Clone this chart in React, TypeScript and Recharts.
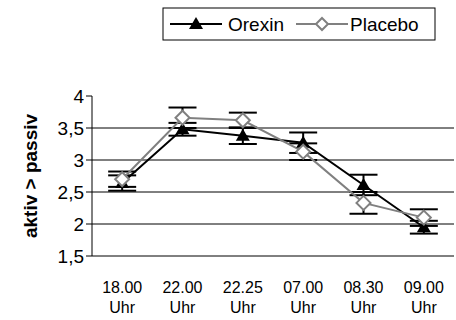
import React from 'react';
import { LineChart, Line, XAxis, YAxis, ErrorBar, ReferenceLine } from 'recharts';

const categories = ['18.00 Uhr', '22.00 Uhr', '22.25 Uhr', '07.00 Uhr', '08.30 Uhr', '09.00 Uhr'];
const orexin = [2.64, 3.48, 3.38, 3.27, 2.61, 1.95];
const orexinErr = [0.12, 0.1, 0.13, 0.16, 0.16, 0.1];
const placebo = [2.7, 3.66, 3.62, 3.13, 2.33, 2.1];
const placeboErr = [0.12, 0.16, 0.12, 0.13, 0.17, 0.13];
const yTicks = [1.5, 2, 2.5, 3, 3.5, 4];
const gridValues = [2, 2.5, 3, 3.5];

const data = categories.map((c, i) => ({
  x: i + 0.5,
  label: c,
  orexin: orexin[i],
  orexinErr: orexinErr[i],
  placebo: placebo[i],
  placeboErr: placeboErr[i],
}));

const font = '"Liberation Sans", Arial, sans-serif';

const Triangle = (props: any) => {
  const { cx, cy } = props;
  if (cx == null || cy == null) return null;
  return <path d={`M${cx},${cy - 7} L${cx + 7},${cy + 5} L${cx - 7},${cy + 5} Z`} fill="#000" />;
};

const Diamond = (props: any) => {
  const { cx, cy } = props;
  if (cx == null || cy == null) return null;
  return (
    <path
      d={`M${cx},${cy - 7} L${cx + 7},${cy} L${cx},${cy + 7} L${cx - 7},${cy} Z`}
      fill="#fff"
      stroke="#808080"
      strokeWidth={2}
    />
  );
};

const CatTick = (props: any) => {
  const { x, y, payload } = props;
  const idx = Math.round(payload.value - 0.5);
  const parts = (categories[idx] || '').split(' ');
  return (
    <text x={x} y={y} textAnchor="middle" fontSize={16} fontFamily={font} fill="#000">
      <tspan x={x} dy={28}>{parts[0]}</tspan>
      <tspan x={x} dy={20}>{parts[1]}</tspan>
    </text>
  );
};

// legend drawn as plain svg on top of the chart
const LegendBox = () => (
  <svg width={274} height={34} style={{ position: 'absolute', left: 162, top: 7 }}>
    <rect x={1} y={1} width={272} height={32} fill="#fff" stroke="#000" strokeWidth={1} />
    <line x1={8} y1={17} x2={60} y2={17} stroke="#000" strokeWidth={2} />
    <path d="M34,10 L41,22 L27,22 Z" fill="#000" />
    <text x={66} y={24} fontSize={19} fontFamily={font}>Orexin</text>
    <line x1={134} y1={17} x2={186} y2={17} stroke="#808080" strokeWidth={2} />
    <path d="M160,11 L166,17 L160,23 L154,17 Z" fill="#fff" stroke="#808080" strokeWidth={2} />
    <text x={188} y={24} fontSize={19} fontFamily={font}>Placebo</text>
  </svg>
);

export default function App() {
  return (
    <div style={{ position: 'absolute', left: 0, top: 0, width: 456, height: 320, background: '#fff' }}>
      <LineChart width={456} height={320} data={data} margin={{ top: 96, right: 2, bottom: 3, left: 0 }}>
        <XAxis
          xAxisId="bounds"
          type="number"
          dataKey="x"
          domain={[0, 6]}
          ticks={[0, 1, 2, 3, 4, 5, 6]}
          tick={false}
          tickSize={5}
          axisLine={{ stroke: '#000', strokeWidth: 1 }}
          tickLine={{ stroke: '#000' }}
          height={1}
        />
        <XAxis
          xAxisId="labels"
          type="number"
          dataKey="x"
          domain={[0, 6]}
          ticks={data.map((d) => d.x)}
          tick={<CatTick />}
          tickLine={false}
          axisLine={false}
          height={60}
        />
        <YAxis
          type="number"
          domain={[1.5, 4]}
          ticks={yTicks}
          interval={0}
          width={92}
          tickSize={6}
          tickFormatter={(v) => String(v).replace('.', ',')}
          tick={{ fill: '#000', fontSize: 19, fontFamily: font }}
          axisLine={{ stroke: '#000' }}
          tickLine={{ stroke: '#000' }}
          label={{
            value: 'aktiv > passiv',
            angle: -90,
            position: 'insideLeft',
            offset: 30,
            style: { textAnchor: 'middle', fontWeight: 'bold', fontSize: 19, fontFamily: font, fill: '#000' },
          }}
        />
        {gridValues.map((v) => (
          <ReferenceLine key={v} y={v} xAxisId="labels" stroke="#000" strokeWidth={1} />
        ))}
        <Line
          xAxisId="labels"
          dataKey="orexin"
          stroke="#000"
          strokeWidth={2}
          dot={<Triangle />}
          activeDot={false}
          isAnimationActive={false}
        >
          <ErrorBar dataKey="orexinErr" direction="y" width={14} stroke="#000" strokeWidth={2} />
        </Line>
        <Line
          xAxisId="labels"
          dataKey="placebo"
          stroke="#808080"
          strokeWidth={2}
          dot={<Diamond />}
          activeDot={false}
          isAnimationActive={false}
        >
          <ErrorBar dataKey="placeboErr" direction="y" width={14} stroke="#000" strokeWidth={2} />
        </Line>
      </LineChart>
      <LegendBox />
    </div>
  );
}
